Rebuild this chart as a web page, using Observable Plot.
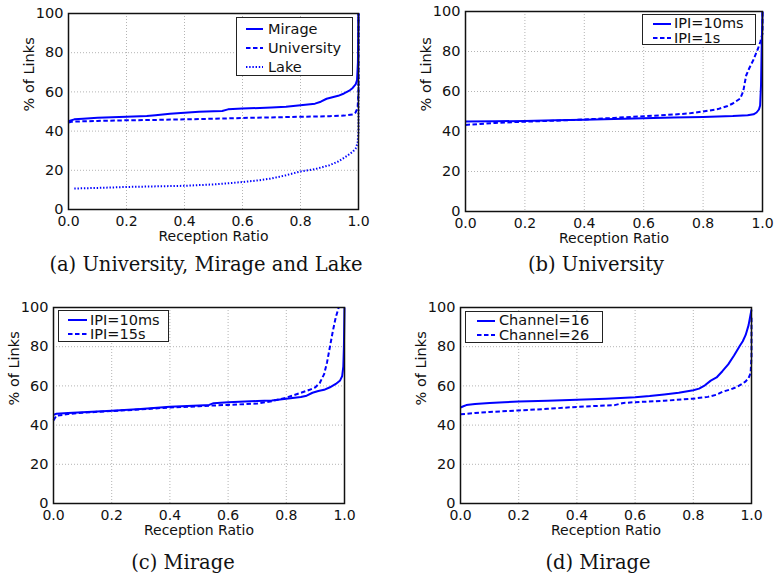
<!DOCTYPE html>
<html>
<head>
<meta charset="utf-8">
<script src="https://cdn.jsdelivr.net/npm/d3@7"></script>
<script src="https://cdn.jsdelivr.net/npm/@observablehq/plot@0.6"></script>
<style>
  html, body { margin: 0; padding: 0; background: #fff; }
  #root { position: relative; width: 776px; height: 577px; overflow: hidden; background: #fff; }
  .panel { position: absolute; }
  .caption { position: absolute; font-family: "DejaVu Serif", serif; font-size: 19.5px; line-height: 22px; color: #111; white-space: nowrap; transform: translateX(-50%); }
  .legend { position: absolute; background: #fff; border: 1.5px solid #222; box-sizing: border-box; }
  .lg-row { position: absolute; font-family: "DejaVu Sans", sans-serif; font-size: 14.5px; line-height: 14px; color: #111; white-space: nowrap; }
</style>
</head>
<body>
<div id="root"></div>
<script>
// ---------- data (reception ratio, % of links) ----------
const xTicks = [0, 0.2, 0.4, 0.6, 0.8, 1.0];
const yTicks = [0, 20, 40, 60, 80, 100];
const xLabel = "Reception Ratio";
const yLabel = "% of Links";

// (a) University, Mirage and Lake
const aMirage = [[0,44.5],[0.005,45.3],[0.02,46],[0.05,46.3],[0.1,46.8],[0.2,47.3],[0.27,47.7],[0.3,48.1],[0.35,48.8],[0.4,49.4],[0.45,49.9],[0.5,50.1],[0.53,50.3],[0.55,51.1],[0.6,51.5],[0.7,52],[0.75,52.4],[0.8,53.2],[0.85,54],[0.87,55],[0.89,56.5],[0.91,57.3],[0.93,58],[0.95,59.2],[0.97,60.8],[0.98,62],[0.99,63.8],[0.995,66],[0.998,75],[1,100]];
const aUniversity = [[0,44.3],[0.01,44.8],[0.1,45.2],[0.2,45.5],[0.3,45.7],[0.4,46],[0.5,46.3],[0.6,46.7],[0.7,47],[0.8,47.3],[0.9,47.6],[0.95,47.9],[0.98,48.5],[0.99,49.5],[0.997,52],[1,60],[1,100]];
const aLake = [[0.02,10.7],[0.1,11],[0.2,11.5],[0.3,11.8],[0.4,12.1],[0.5,12.8],[0.6,14],[0.65,14.8],[0.7,15.8],[0.75,17.5],[0.8,19.4],[0.85,20.6],[0.9,22.6],[0.93,24.5],[0.96,27.3],[0.98,29.5],[0.99,31],[0.997,34],[1,40],[1,100]];

// (b) University
const b10ms = [[0,45],[0.1,45.1],[0.2,45.3],[0.3,45.6],[0.4,45.9],[0.5,46.2],[0.6,46.6],[0.7,47],[0.8,47.3],[0.9,47.7],[0.95,48.1],[0.97,48.6],[0.98,49.5],[0.988,51],[0.992,53],[0.995,63],[0.997,80],[1,100]];
const b1s = [[0,43.3],[0.05,43.8],[0.1,44.3],[0.2,44.9],[0.3,45.4],[0.4,46],[0.5,46.8],[0.6,47.6],[0.7,48.5],[0.75,49],[0.8,50],[0.85,51.2],[0.88,52.6],[0.9,54],[0.925,56.5],[0.935,60],[0.945,68],[0.955,71.5],[0.97,76],[0.985,81.5],[0.993,85],[1,89],[1,100]];

// (c) Mirage
const c10ms = [[0,45.2],[0.01,45.8],[0.05,46.2],[0.1,46.6],[0.2,47.3],[0.3,48.2],[0.4,49.4],[0.5,50],[0.535,50.3],[0.55,51.2],[0.6,51.6],[0.7,52.3],[0.75,52.6],[0.8,53.4],[0.85,54.3],[0.87,55],[0.89,56.5],[0.91,57.4],[0.93,58],[0.95,59.3],[0.97,61],[0.985,62.8],[0.992,65],[0.996,70],[0.998,80],[1,100]];
const c15s = [[0,42.4],[0.01,44.8],[0.05,45.6],[0.1,46.3],[0.2,47.2],[0.3,48],[0.4,49],[0.5,49.6],[0.55,50],[0.6,50.3],[0.7,51],[0.75,52.2],[0.8,54],[0.85,56.5],[0.88,58],[0.9,59.3],[0.915,61.5],[0.93,66],[0.94,72],[0.95,80],[0.96,88],[0.97,95],[0.98,100]];

// (d) Mirage
const dCh16 = [[0,49],[0.01,49.6],[0.02,50.2],[0.05,50.8],[0.1,51.3],[0.15,51.7],[0.2,52],[0.3,52.4],[0.4,52.9],[0.5,53.5],[0.6,54.2],[0.65,54.8],[0.7,55.6],[0.75,56.5],[0.8,57.8],[0.82,58.6],[0.84,60.3],[0.86,62.7],[0.88,64.3],[0.9,67.5],[0.92,71],[0.94,75.5],[0.96,80.5],[0.97,82.8],[0.98,86],[0.99,91],[1,99]];
const dCh26 = [[0,45.5],[0.05,46.2],[0.1,46.7],[0.2,47.5],[0.3,48.3],[0.4,49.3],[0.5,50],[0.53,50.2],[0.56,51.3],[0.6,51.7],[0.7,52.4],[0.8,53.5],[0.85,54.4],[0.88,55.5],[0.9,57],[0.93,58.3],[0.95,59.5],[0.97,61.2],[0.98,62.3],[0.99,64],[0.997,66.5],[1,75],[1,95]];

const captions = ["(a) University, Mirage and Lake", "(b) University", "(c) Mirage", "(d) Mirage"];

// ---------- styles ----------
const BLUE = "#0000ff";
const DASH = { solid: null, dashed: "4.5,2.5", dotted: "1.4,1.8" };

const panels = [
  { left: 0, top: 0, width: 388, height: 250, m: [13, 30, 41, 68],
    series: [ {name: "Mirage", data: aMirage, dash: "solid"},
              {name: "University", data: aUniversity, dash: "dashed"},
              {name: "Lake", data: aLake, dash: "dotted"} ],
    legend: { box: [236, 17, 353, 76], rows: [29, 48, 67], sx: [246, 263], tx: 268 },
    caption: { cx: 206, cy: 265 } },
  { left: 388, top: 0, width: 388, height: 250, m: [11, 14, 39, 77],
    series: [ {name: "IPI=10ms", data: b10ms, dash: "solid"},
              {name: "IPI=1s", data: b1s, dash: "dashed"} ],
    legend: { box: [642, 14, 756, 45], rows: [23.5, 38], sx: [653, 671], tx: 674 },
    caption: { cx: 596, cy: 265 } },
  { left: 0, top: 290, width: 388, height: 255, m: [17, 44, 42, 53],
    series: [ {name: "IPI=10ms", data: c10ms, dash: "solid"},
              {name: "IPI=15s", data: c15s, dash: "dashed"} ],
    legend: { box: [58, 310, 169, 342], rows: [320, 334], sx: [68, 87], tx: 90 },
    caption: { cx: 183, cy: 563 } },
  { left: 388, top: 290, width: 388, height: 255, m: [17, 25, 42, 72],
    series: [ {name: "Channel=16", data: dCh16, dash: "solid"},
              {name: "Channel=26", data: dCh26, dash: "dashed"} ],
    legend: { box: [465, 311, 603, 343], rows: [320.5, 335], sx: [477, 495], tx: 499 },
    caption: { cx: 598, cy: 563 } }
];

const root = document.getElementById("root");

panels.forEach((p, i) => {
  const [mt, mr, mb, ml] = p.m;
  const chart = Plot.plot({
    width: p.width, height: p.height,
    marginTop: mt, marginRight: mr, marginBottom: mb, marginLeft: ml,
    style: { fontFamily: "DejaVu Sans, sans-serif", fontSize: "14px", color: "#111", background: "transparent", overflow: "visible" },
    x: { domain: [0, 1] },
    y: { domain: [0, 100] },
    marks: [
      Plot.gridX(xTicks, { stroke: "#b4b4b4", strokeOpacity: 1, strokeDasharray: "1,2", strokeWidth: 1 }),
      Plot.gridY(yTicks, { stroke: "#b4b4b4", strokeOpacity: 1, strokeDasharray: "1,2", strokeWidth: 1 }),
      ...p.series.slice().reverse().map(s => Plot.line(s.data, {
        x: d => d[0], y: d => d[1], stroke: BLUE, strokeWidth: 2,
        strokeDasharray: DASH[s.dash], strokeLinecap: "butt", strokeLinejoin: "round"
      })),
      Plot.frame({ stroke: "#111", strokeWidth: 1.5 }),
      Plot.axisX(xTicks, { tickSize: 0, tickPadding: 6.5, tickFormat: d3.format(".1f"), label: null, fontSize: 14 }),
      Plot.axisY(yTicks, { tickSize: 0, tickPadding: 5, tickFormat: d => String(d), label: null, fontSize: 14.5 }),
      Plot.text([xLabel], { frameAnchor: "bottom", dy: 31.5, text: d => d, fontSize: 14, fill: "#111" }),
      Plot.text([yLabel], { frameAnchor: "left", dx: -39.5, rotate: -90, text: d => d, fontSize: 14.5, fill: "#111" })
    ]
  });
  const wrap = document.createElement("div");
  wrap.className = "panel";
  wrap.style.left = p.left + "px";
  wrap.style.top = p.top + "px";
  wrap.appendChild(chart);
  root.appendChild(wrap);

  // legend
  const L = p.legend;
  const box = document.createElement("div");
  box.className = "legend";
  box.style.left = L.box[0] + "px";
  box.style.top = L.box[1] + "px";
  box.style.width = (L.box[2] - L.box[0]) + "px";
  box.style.height = (L.box[3] - L.box[1]) + "px";
  root.appendChild(box);
  p.series.forEach((s, j) => {
    const yc = L.rows[j];
    const ns = "http://www.w3.org/2000/svg";
    const svg = document.createElementNS(ns, "svg");
    svg.setAttribute("width", L.sx[1] - L.sx[0]);
    svg.setAttribute("height", 4);
    svg.style.position = "absolute";
    svg.style.left = L.sx[0] + "px";
    svg.style.top = (yc - 2) + "px";
    const ln = document.createElementNS(ns, "line");
    ln.setAttribute("x1", 0); ln.setAttribute("x2", L.sx[1] - L.sx[0]);
    ln.setAttribute("y1", 2); ln.setAttribute("y2", 2);
    ln.setAttribute("stroke", BLUE); ln.setAttribute("stroke-width", 2);
    if (DASH[s.dash]) ln.setAttribute("stroke-dasharray", DASH[s.dash]);
    svg.appendChild(ln);
    root.appendChild(svg);
    const t = document.createElement("div");
    t.className = "lg-row";
    t.textContent = s.name;
    t.style.left = L.tx + "px";
    t.style.top = (yc - 7.5) + "px";
    root.appendChild(t);
  });

  const cap = document.createElement("div");
  cap.className = "caption";
  cap.textContent = captions[i];
  cap.style.left = p.caption.cx + "px";
  cap.style.top = (p.caption.cy - 11) + "px";
  root.appendChild(cap);
});
</script>
</body>
</html>
